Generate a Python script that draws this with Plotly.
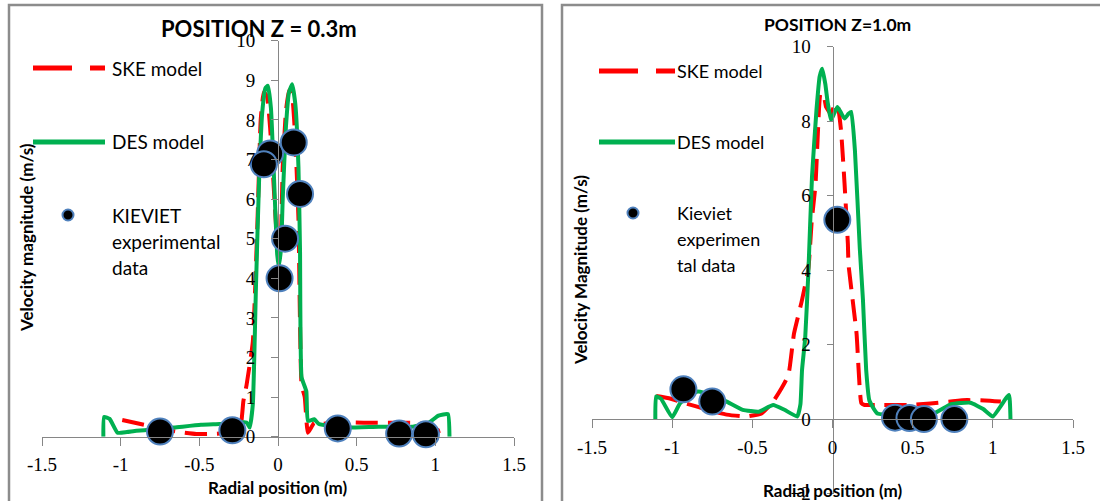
import plotly.graph_objects as go

W, H = 1100, 501

# ---------------- DATA: Position z = 0.3 m ----------------
ske03_x = [-0.99, -0.85, -0.72, -0.63, -0.52, -0.44, -0.37, -0.29, -0.24, -0.22, -0.2, -0.16, -0.13,
           -0.11, -0.09, -0.07, -0.05, -0.03, -0.01, 0.01, 0.02, 0.03, 0.05, 0.07, 0.09, 0.11, 0.13,
           0.15, 0.17, 0.19, 0.23, 0.26, 0.35, 0.47, 0.62, 0.75, 0.85, 0.95, 1.03, 1.06]
ske03_y = [0.42, 0.3, 0.18, 0.12, 0.07, 0.07, 0.08, 0.12, 0.23, 0.9, 1.3, 2.4, 5.5,
           8.0, 8.7, 8.6, 7.8, 6.5, 5.2, 4.6, 5.2, 6.8, 8.2, 8.75, 8.6, 7.5, 5.5,
           1.3, 1.0, 0.1, 0.35, 0.32, 0.35, 0.36, 0.35, 0.35, 0.35, 0.3, 0.15, 0.23]

des03_x = [-1.11, -1.105, -1.07, -1.02, -0.96, -0.9, -0.8, -0.66, -0.49, -0.37, -0.2, -0.18, -0.16,
           -0.14, -0.12, -0.1, -0.08, -0.064, -0.045, -0.03, -0.02, -0.005, 0.005, 0.02, 0.03,
           0.05, 0.07, 0.09, 0.11, 0.13, 0.14, 0.15, 0.18, 0.19, 0.23, 0.26, 0.43, 0.64, 0.85,
           0.96, 1.02, 1.08, 1.09]
des03_y = [0.0, 0.5, 0.45, 0.1, 0.12, 0.15, 0.18, 0.23, 0.3, 0.32, 0.36, 0.23, 0.82,
           3.8, 6.5, 8.2, 8.8, 8.86, 8.3, 7.0, 6.0, 4.6, 4.3, 4.8, 6.0,
           7.8, 8.7, 8.9, 8.4, 6.8, 4.7, 1.5, 1.15, 0.4, 0.44, 0.32, 0.23, 0.25, 0.25,
           0.36, 0.53, 0.57, 0.0]

kie03_x = [-0.75, -0.29, 0.01, 0.045, -0.05, -0.09, 0.1, 0.14, 0.38, 0.77, 0.94]
kie03_y = [0.13, 0.16, 4.0, 5.0, 7.15, 6.88, 7.43, 6.13, 0.21, 0.08, 0.06]

# ---------------- DATA: Position z = 1.0 m ----------------
ske10_x = [-1.1, -1.02, -0.94, -0.85, -0.76, -0.66, -0.54, -0.44, -0.37, -0.29, -0.27, -0.24, -0.19,
           -0.15, -0.13, -0.106, -0.09, -0.075, -0.055, -0.04, -0.01, 0.01, 0.03, 0.053, 0.075,
           0.096, 0.1, 0.15, 0.18, 0.2, 0.27, 0.48, 0.61, 0.75, 0.84, 0.95, 1.05]
ske10_y = [0.62, 0.56, 0.45, 0.34, 0.22, 0.12, 0.07, 0.16, 0.47, 1.05, 1.3, 2.3, 3.2,
           4.06, 5.3, 6.3, 7.8, 8.74, 8.7, 8.38, 8.2, 8.4, 8.47, 7.76, 6.33,
           4.7, 4.15, 2.3, 0.43, 0.38, 0.38, 0.38, 0.42, 0.48, 0.51, 0.5, 0.47]

des10_x = [-1.105, -1.1, -1.07, -1.0, -0.95, -0.84, -0.73, -0.66, -0.56, -0.46, -0.37, -0.3, -0.22,
           -0.2, -0.19, -0.17, -0.15, -0.128, -0.1, -0.08, -0.064, -0.045, -0.03, -0.01, 0.01,
           0.03, 0.05, 0.075, 0.1, 0.117, 0.14, 0.17, 0.19, 0.21, 0.23, 0.28, 0.45, 0.63, 0.74,
           0.86, 0.94, 1.0, 1.1, 1.11]
des10_y = [0.0, 0.61, 0.55, 0.05, 0.43, 0.74, 0.6, 0.47, 0.25, 0.2, 0.38, 0.25, 0.07,
           0.4, 1.32, 2.2, 4.0, 6.5, 8.3, 9.2, 9.41, 9.0, 8.5, 8.03, 8.2,
           8.38, 8.25, 8.07, 8.2, 8.25, 7.2, 4.6, 3.2, 1.32, 0.5, 0.15, 0.12, 0.15, 0.4,
           0.44, 0.27, 0.07, 0.65, 0.0]

kie10_x = [-0.93, -0.75, 0.03, 0.39, 0.48, 0.57, 0.76]
kie10_y = [0.8, 0.47, 5.35, 0.04, 0.03, 0.0, 0.0]

x_ticks = [-1.5, -1, -0.5, 0, 0.5, 1, 1.5]
x_ticklabels = ["-1.5", "-1", "-0.5", "0", "0.5", "1", "1.5"]

# ---------------- STYLE ----------------
RED = "#FF0000"
GREEN = "#00B050"
DOT_EDGE = "#4F81BD"
GREY = "#868686"
TICKFONT = dict(family="Liberation Serif", size=19, color="black")
TXT = "Lato"


def px(x):
    return x / W


def py(y):
    return 1 - y / H


fig = go.Figure()

def add_panel(xa, ya, sx, sy, kx, ky, dx, dy):
    fig.add_trace(go.Scatter(x=sx, y=sy, mode="lines", xaxis=xa, yaxis=ya,
                             line=dict(color=RED, width=4, dash="22px,10px", shape="spline", smoothing=0.4),
                             showlegend=False, cliponaxis=False))
    fig.add_trace(go.Scatter(x=dx, y=dy, mode="lines", xaxis=xa, yaxis=ya,
                             line=dict(color=GREEN, width=4, shape="spline", smoothing=0.4),
                             showlegend=False, cliponaxis=False))
    fig.add_trace(go.Scatter(x=kx, y=ky, mode="markers", xaxis=xa, yaxis=ya,
                             marker=dict(size=26, color="black", line=dict(color=DOT_EDGE, width=2)),
                             showlegend=False, cliponaxis=False))

add_panel("x", "y", ske03_x, ske03_y, kie03_x, kie03_y, des03_x, des03_y)
add_panel("x2", "y2", ske10_x, ske10_y, kie10_x, kie10_y, des10_x, des10_y)

# panel geometry (pixels)
L_x0, L_x1, L_ytop, L_ybot = 42, 514, 40.7, 436.7
R_x0, R_x1, R_ytop, R_ybot = 592, 1073, 46.7, 493.6
R_zero = R_ybot - (R_ybot - R_ytop) * 2 / 12

axis_common = dict(showline=True, linecolor=GREY, linewidth=1, ticks="outside", tickcolor=GREY,
                   tickwidth=1, showgrid=False, zeroline=False, tickfont=TICKFONT, automargin=False,
                   ticklabeloverflow="allow")

fig.update_layout(
    template="none",
    width=W, height=H, margin=dict(l=0, r=0, t=0, b=0, pad=0, autoexpand=False),
    paper_bgcolor="white", plot_bgcolor="white", showlegend=False,
    xaxis=dict(domain=[px(L_x0), px(L_x1)], range=[-1.5, 1.5], tickvals=x_ticks, ticktext=x_ticklabels,
               anchor="y", ticklen=8, ticklabelstandoff=2, **axis_common),
    yaxis=dict(domain=[py(L_ybot), py(L_ytop)], range=[0, 10], dtick=1, anchor="free",
               position=px((L_x0 + L_x1) / 2), side="left", ticklen=7, ticklabelstandoff=12,
               **axis_common),
    xaxis2=dict(domain=[px(R_x0), px(R_x1)], range=[-1.5, 1.5], tickvals=x_ticks, ticktext=x_ticklabels,
                anchor="free", position=py(R_zero), side="bottom", ticklen=8, ticklabelstandoff=3,
                **axis_common),
    yaxis2=dict(domain=[py(R_ybot), py(R_ytop)], range=[-2, 10], dtick=2, anchor="free",
                position=px((R_x0 + R_x1) / 2), side="left", ticklen=6, ticklabelstandoff=12,
                **axis_common),
)

shapes = []
# panel frames
for (x0, x1) in [(9, 542), (562, 1112)]:
    shapes.append(dict(type="rect", xref="paper", yref="paper", x0=px(x0), x1=px(x1),
                       y0=-0.05, y1=py(5), line=dict(color="#8C8C8C", width=2.5)))

annotations = []

def add_legend(xl0, xl1, xt, yr, yg, yd, xd, dlines, fsize):
    shapes.append(dict(type="line", xref="paper", yref="paper", x0=px(xl0), x1=px(xl1),
                       y0=py(yr), y1=py(yr), line=dict(color=RED, width=5, dash="39px,18px")))
    shapes.append(dict(type="line", xref="paper", yref="paper", x0=px(xl0), x1=px(xl1),
                       y0=py(yg), y1=py(yg), line=dict(color=GREEN, width=5)))
    r = 5.5
    shapes.append(dict(type="circle", xref="paper", yref="paper", x0=px(xd - r), x1=px(xd + r),
                       y0=py(yd + r), y1=py(yd - r), fillcolor="black",
                       line=dict(color=DOT_EDGE, width=2)))
    for txt, yy in [("SKE model", yr), ("DES model", yg)]:
        annotations.append(dict(text=txt, xref="paper", yref="paper", x=px(xt), y=py(yy),
                                xanchor="left", yanchor="middle", showarrow=False,
                                font=dict(family=TXT, size=fsize, color="black")))
    for i, t in enumerate(dlines):
        annotations.append(dict(text=t, xref="paper", yref="paper", x=px(xt), y=py(yd + 26 * i),
                                xanchor="left", yanchor="middle", showarrow=False,
                                font=dict(family=TXT, size=fsize, color="black")))

add_legend(33, 105, 110, 68, 142, 215, 68, ["KIEVIET", "experimental", "data"], 19)
add_legend(599, 675, 675, 71, 142, 213, 633, ["Kieviet", "experimen", "tal data"], 18)

# titles
annotations.append(dict(text="<b>POSITION Z = 0.3m</b>", xref="paper", yref="paper", x=px(259), y=py(28),
                        xanchor="center", yanchor="middle", showarrow=False,
                        font=dict(family=TXT, size=22, color="black")))
annotations.append(dict(text="<b>POSITION Z=1.0m</b>", xref="paper", yref="paper", x=px(837), y=py(25),
                        xanchor="center", yanchor="middle", showarrow=False,
                        font=dict(family=TXT, size=17.5, color="black")))
# axis titles
annotations.append(dict(text="<b>Radial position (m)</b>", xref="paper", yref="paper", x=px(278), y=py(487),
                        xanchor="center", yanchor="middle", showarrow=False,
                        font=dict(family=TXT, size=17, color="black")))
annotations.append(dict(text="<b>Radial position (m)</b>", xref="paper", yref="paper", x=px(833), y=py(490),
                        xanchor="center", yanchor="middle", showarrow=False,
                        font=dict(family=TXT, size=17, color="black")))
annotations.append(dict(text="<b>Velocity magnitude (m/s)</b>", xref="paper", yref="paper", x=px(26), y=py(238),
                        xanchor="center", yanchor="middle", showarrow=False, textangle=-90,
                        font=dict(family=TXT, size=17, color="black")))
annotations.append(dict(text="<b>Velocity Magnitude (m/s)</b>", xref="paper", yref="paper", x=px(580), y=py(270),
                        xanchor="center", yanchor="middle", showarrow=False, textangle=-90,
                        font=dict(family=TXT, size=17, color="black")))

fig.update_layout(shapes=shapes, annotations=annotations)
fig.write_html("out.html")
